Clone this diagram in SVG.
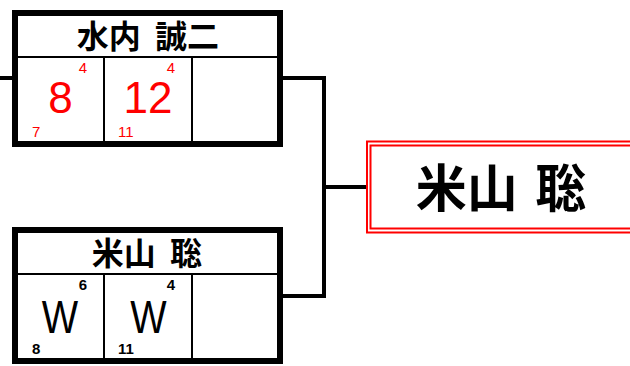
<svg xmlns="http://www.w3.org/2000/svg" width="630" height="366" viewBox="0 0 630 366">
<style>
.box{fill:#fff;stroke:#000;stroke-width:6}
.thin{stroke:#000;stroke-width:2}
.con{stroke:#000;stroke-width:4;fill:none}
.name{font-family:"Noto Sans CJK JP","Noto Sans CJK SC",sans-serif;font-weight:bold;fill:#000;text-anchor:middle}
.big{font-family:"Liberation Sans",Arial,sans-serif;font-size:44px;text-anchor:middle}
.sm{font-family:"Liberation Sans",Arial,sans-serif;font-size:15px}
.red{fill:#ff0000}
.blk{fill:#000}
.b{font-weight:bold}
.end{text-anchor:end}
.dbl{fill:none;stroke:#ff0000;stroke-width:2}
</style>
<rect width="630" height="366" fill="#fff"/>
<g id="connectors">
<line class="con" x1="0" y1="78" x2="13" y2="78"/>
<line class="con" x1="282" y1="78" x2="324" y2="78"/>
<line class="con" x1="282" y1="296" x2="324" y2="296"/>
<line class="con" x1="324" y1="76" x2="324" y2="298"/>
<line class="con" x1="324" y1="187" x2="367" y2="187"/>
</g>
<g id="node-mizuuchi">
<rect class="box" x="15" y="13" width="265" height="131"/>
<line class="thin" x1="15" y1="57" x2="280" y2="57"/>
<line class="thin" x1="104" y1="57" x2="104" y2="144"/>
<line class="thin" x1="192" y1="57" x2="192" y2="144"/>
<text class="name" x="148" y="47.5" font-size="32" word-spacing="7">水内 誠二</text>
<text class="big red" x="60.5" y="113">8</text>
<text class="big red" x="148" y="113">12</text>
<text class="sm red end" x="87" y="72.7">4</text>
<text class="sm red end" x="175" y="72.7">4</text>
<text class="sm red" x="32" y="137">7</text>
<text class="sm red" x="118" y="137">11</text>
</g>
<g id="node-yoneyama">
<rect class="box" x="15" y="230" width="265" height="131"/>
<line class="thin" x1="15" y1="274" x2="280" y2="274"/>
<line class="thin" x1="104" y1="274" x2="104" y2="361"/>
<line class="thin" x1="192" y1="274" x2="192" y2="361"/>
<text class="name" x="147" y="264.5" font-size="32" word-spacing="7">米山 聡</text>
<text class="blk" font-family="Liberation Sans, Arial, sans-serif" font-size="47" text-anchor="middle" transform="translate(60,333) scale(0.82,1)">W</text>
<text class="blk" font-family="Liberation Sans, Arial, sans-serif" font-size="47" text-anchor="middle" transform="translate(148.5,333) scale(0.82,1)">W</text>
<text class="sm blk b end" x="87" y="289.7">6</text>
<text class="sm blk b end" x="175" y="289.7">4</text>
<text class="sm blk b" x="32" y="354">8</text>
<text class="sm blk b" x="118" y="354">11</text>
</g>
<g id="node-winner">
<rect class="dbl" x="367" y="141.5" width="280" height="91"/>
<rect class="dbl" x="370.5" y="145.5" width="280" height="83"/>
<text class="name" x="501" y="207" font-size="51" word-spacing="6">米山 聡</text>
</g>
</svg>
